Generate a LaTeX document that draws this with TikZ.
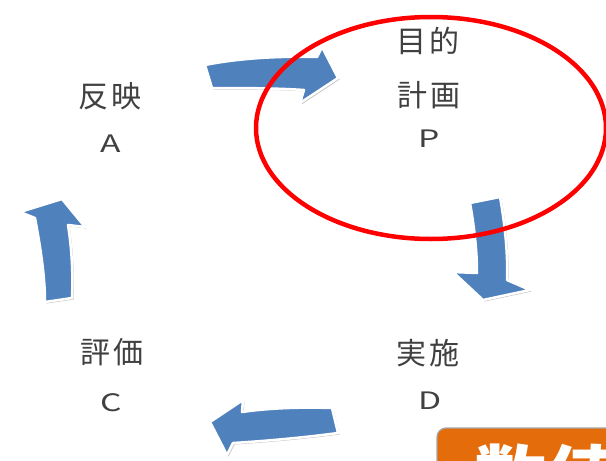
\documentclass[tikz,border=0pt]{standalone}
\usepackage{fontspec}
\newfontfamily\jp{Noto Sans CJK JP}
\usetikzlibrary{shadows}
\definecolor{ablue}{HTML}{4F81BD}
\definecolor{aorange}{HTML}{E46C0A}
\definecolor{tgray}{HTML}{404040}
\begin{document}
\begin{tikzpicture}[x=1pt,y=-1pt,
  blk/.style={fill=ablue, draw=white, line width=2.5pt, line join=round,
    drop shadow={shadow xshift=1.5pt, shadow yshift=-1.5pt, opacity=0.25, fill=black}},
  lbl/.style={font=\jp\fontsize{30}{30}\selectfont, text=tgray, inner sep=0pt},
  ltr/.style={font=\jp\fontsize{24}{24}\selectfont, text=tgray, inner sep=0pt}]
\useasboundingbox (0,0) rectangle (606,461);
\fill[white] (0,0) rectangle (606,461);

% texts
\node[lbl] (a1) at (110,96) {反\hspace{3pt}映};
\node[ltr] (a2) at (111,144) {\scalebox{1.4}[1]{A}};
\node[lbl] (p0) at (428,41) {目\hspace{3pt}的};
\node[lbl] (p1) at (429,95) {計\hspace{3pt}画};
\node[ltr] (p2) at (429,139) {\scalebox{1.4}[1]{P}};
\node[lbl] (c1) at (112,352) {評\hspace{3pt}価};
\node[ltr] (c2) at (111,403) {\scalebox{1.4}[1]{C}};
\node[lbl] (d1) at (428,353) {実\hspace{3pt}施};
\node[ltr] (d2) at (430,401) {\scalebox{1.4}[1]{D}};

% block arrows
% top: A -> P
\path[blk] (205,65) .. controls (240,58) and (280,56) .. (317,57) -- (322,47) -- (338,78)
  -- (300,103) -- (304,90) .. controls (275,88) and (240,88) .. (212,88) -- cycle;
% right: P -> D
\path[blk] (470,203) -- (500,197) .. controls (505,225) and (508,255) .. (507,280)
  -- (530,290) -- (483,300) -- (453,272) -- (477,273) .. controls (477,250) and (474,225) .. (470,203) -- cycle;
% bottom: D -> C
\path[blk] (332,408) -- (338,433) .. controls (300,438) and (265,441) .. (233,443)
  -- (227,455) -- (210,422) -- (243,400) -- (242,412) .. controls (270,408) and (300,407) .. (332,408) -- cycle;
% left: C -> A
\path[blk] (45,302) .. controls (45,275) and (40,245) .. (35,218) -- (20,212) -- (62,199)
  -- (85,227) -- (68,225) .. controls (72,250) and (73,275) .. (72,298) -- cycle;

% red ellipse
\draw[red, line width=4.5pt] (431,128) ellipse [x radius=175pt, y radius=111pt];

% orange box (cut off)
\begin{scope}
\clip (0,0) rectangle (606,461);
\draw[fill=aorange, draw=gray!70, line width=1.2pt, rounded corners=9pt] (437,428) rectangle (680,540);
\node[anchor=base west, font=\jp\bfseries\fontsize{72}{72}\selectfont, text=white, inner sep=0pt] (num) at (474,505) {数値};
\end{scope}
\end{tikzpicture}
\end{document}
